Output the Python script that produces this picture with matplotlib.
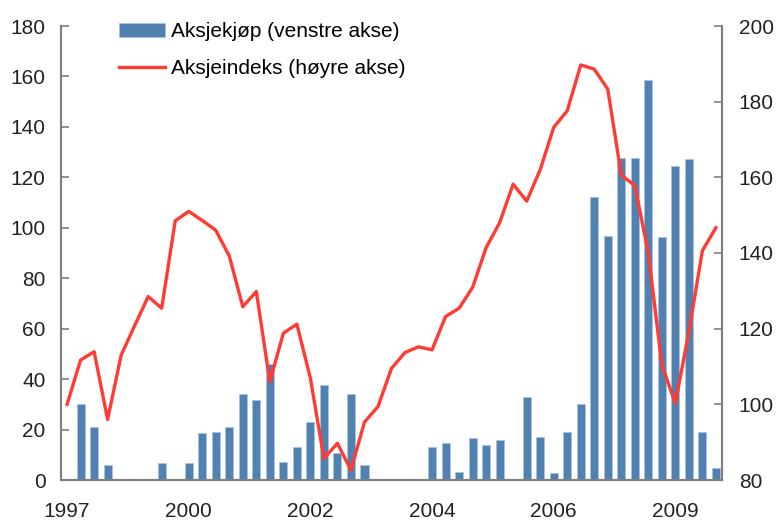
import matplotlib
matplotlib.use("Agg")
from matplotlib import pyplot as plt
import numpy as np

plt.rcParams['font.family'] = ['Liberation Sans', 'DejaVu Sans']

# quarterly observations, 49 points
aksjekjop = [0, 30, 21, 6, 0, 0, 0, 6.6, 0, 6.6,
             18.5, 19.2, 21, 34.1, 31.6, 45.9, 7.3, 13.2, 22.9, 37.5,
             10.6, 34.1, 5.9, 0, 0, 0, 0, 13.2, 14.5, 3.3,
             16.5, 13.7, 15.7, 0, 32.8, 17.2, 2.6, 19.2, 30.1, 112.1,
             96.9, 127.8, 127.8, 158.6, 96.4, 124.5, 127.3, 19.2, 4.6]
aksjeindeks = [100, 111.7, 113.9, 96.0, 113.0, 120.8, 128.5, 125.4, 148.5, 151,
               148.6, 146, 139.2, 125.8, 129.8, 106, 118.8, 121.2, 106.9, 85.7,
               89.7, 82.6, 95.3, 99.4, 109.5, 113.7, 115.2, 114.4, 123.2, 125.4,
               130.9, 141.4, 148.0, 158.2, 153.7, 162.0, 173.2, 177.6, 189.7, 188.6,
               183.3, 160.6, 157.8, 140.0, 110.4, 100.3, 119.2, 140.6, 146.7]
tick_pos = [0, 9, 18, 27, 36, 45]
tick_labels = ['1997', '2000', '2002', '2004', '2006', '2009']

BAR_COLOR = '#5081B0'
LINE_COLOR = '#FF3B33'
GREY = '#808080'
FS = 15

fig = plt.figure(figsize=(7.77, 5.23), dpi=100)
ax = fig.add_axes([61/777, 1-480/523, (722-61)/777, (480-26)/523])
ax2 = ax.twinx()

x = np.arange(len(aksjekjop))
bars = ax.bar(x, aksjekjop, width=0.6, color=BAR_COLOR,
              edgecolor='#A9C3DD', linewidth=0.6, label='Aksjekjøp (venstre akse)')
line, = ax2.plot(x, aksjeindeks, color=LINE_COLOR, lw=2.4,
                 label='Aksjeindeks (høyre akse)')

ax.set_xlim(-0.45, len(x) - 0.55)
ax.set_ylim(0, 180)
ax.set_yticks(np.arange(0, 181, 20))
ax2.set_ylim(80, 200)
ax2.set_yticks(np.arange(80, 201, 20))

ax.set_xticks(tick_pos)
ax.set_xticklabels(tick_labels)
ax.tick_params(axis='x', length=0, pad=16, labelsize=FS, colors='#222222')
ax.tick_params(axis='y', direction='in', length=6, width=1.2, color=GREY,
               pad=11, labelsize=FS, labelcolor='#222222')
ax2.tick_params(axis='y', direction='in', length=6, width=1.2, color=GREY,
                pad=12, labelsize=FS, labelcolor='#222222')

for a in (ax, ax2):
    a.spines['top'].set_visible(False)
    for s in ('left', 'right', 'bottom'):
        a.spines[s].set_color(GREY)
        a.spines[s].set_linewidth(1.5)

leg = ax2.legend([bars, line], [bars.get_label(), line.get_label()],
                 loc='upper left', bbox_to_anchor=(0.088, 1.008), frameon=False,
                 fontsize=FS, handlelength=2.2, handleheight=0.6,
                 handletextpad=0.3, labelspacing=0.85, borderpad=0, borderaxespad=0)

fig.savefig('out.png', dpi=100)
